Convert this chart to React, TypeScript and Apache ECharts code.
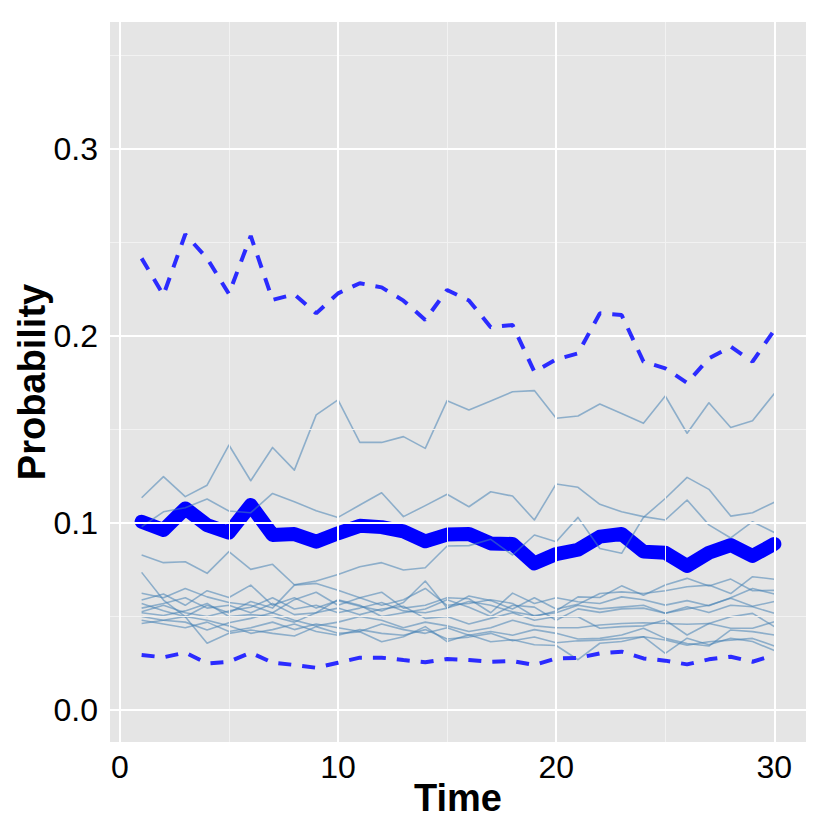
import React, { useEffect, useRef } from "react";
import * as echarts from "echarts";

const time = [1,2,3,4,5,6,7,8,9,10,11,12,13,14,15,16,17,18,19,20,21,22,23,24,25,26,27,28,29,30];

const meanProb = [0.1007,0.0963,0.1078,0.0989,0.0948,0.1096,0.0936,0.0941,0.0900,0.0945,0.0985,0.0978,0.0955,0.0902,0.0938,0.0941,0.0891,0.0888,0.0784,0.0834,0.0857,0.0927,0.0941,0.0847,0.0841,0.0770,0.0841,0.0882,0.0824,0.0888];
const upperProb = [0.2415,0.2219,0.2544,0.2415,0.2225,0.2535,0.2193,0.2223,0.2121,0.2228,0.2282,0.2260,0.2189,0.2086,0.2246,0.2190,0.2047,0.2059,0.1809,0.1875,0.1907,0.2121,0.2112,0.1863,0.1827,0.1749,0.1880,0.1943,0.1863,0.2032];
const lowerProb = [0.0294,0.0282,0.0307,0.0249,0.0258,0.0307,0.0253,0.0241,0.0226,0.0253,0.0280,0.0280,0.0267,0.0255,0.0273,0.0267,0.0258,0.0262,0.0241,0.0276,0.0278,0.0303,0.0312,0.0276,0.0264,0.0244,0.0271,0.0285,0.0258,0.0294];

const simA = [0.1135,0.1248,0.1141,0.1202,0.1417,0.1226,0.1404,0.1283,0.1578,0.1658,0.1431,0.1431,0.1462,0.1399,0.1654,0.1604,0.1652,0.1702,0.1708,0.1560,0.1572,0.1636,0.1586,0.1533,0.1679,0.1480,0.1643,0.1511,0.1547,0.1693];
const simB = [0.0980,0.1060,0.1082,0.1128,0.1064,0.1055,0.1158,0.1114,0.1066,0.1030,0.1096,0.1162,0.1034,0.1093,0.1154,0.1087,0.1167,0.1144,0.1016,0.1209,0.1191,0.1100,0.1060,0.1034,0.1016,0.1123,0.0990,0.0920,0.1007,0.0949];
const simC = [0.0829,0.0788,0.0793,0.0731,0.0847,0.0752,0.0779,0.0670,0.0690,0.0725,0.0766,0.0788,0.0749,0.0761,0.0877,0.0879,0.0913,0.0829,0.0936,0.0900,0.1030,0.0864,0.0838,0.1030,0.1131,0.1244,0.1180,0.1037,0.1055,0.1111];
const simD = [0.0736,0.0588,0.0499,0.0357,0.0410,0.0428,0.0410,0.0396,0.0446,0.0410,0.0418,0.0365,0.0392,0.0446,0.0366,0.0402,0.0365,0.0376,0.0349,0.0345,0.0269,0.0357,0.0366,0.0392,0.0303,0.0384,0.0349,0.0384,0.0366,0.0318];
const simE = [0.0624,0.0600,0.0650,0.0605,0.0575,0.0560,0.0520,0.0590,0.0630,0.0560,0.0600,0.0560,0.0590,0.0650,0.0560,0.0570,0.0590,0.0570,0.0500,0.0530,0.0605,0.0602,0.0664,0.0614,0.0668,0.0704,0.0663,0.0700,0.0638,0.0640];
const simF = [0.0588,0.0620,0.0560,0.0638,0.0602,0.0668,0.0560,0.0600,0.0545,0.0585,0.0555,0.0530,0.0575,0.0690,0.0545,0.0610,0.0585,0.0540,0.0600,0.0540,0.0565,0.0623,0.0632,0.0623,0.0638,0.0659,0.0668,0.0623,0.0713,0.0699];
const simG = [0.0570,0.0531,0.0499,0.0560,0.0520,0.0580,0.0545,0.0668,0.0677,0.0640,0.0600,0.0630,0.0545,0.0560,0.0600,0.0595,0.0520,0.0625,0.0570,0.0600,0.0579,0.0570,0.0605,0.0590,0.0561,0.0585,0.0558,0.0600,0.0650,0.0620];
const simH = [0.0545,0.0570,0.0600,0.0545,0.0560,0.0520,0.0570,0.0510,0.0520,0.0590,0.0560,0.0500,0.0520,0.0540,0.0590,0.0550,0.0500,0.0560,0.0550,0.0480,0.0541,0.0522,0.0541,0.0545,0.0517,0.0541,0.0560,0.0598,0.0555,0.0580];
const simI = [0.0526,0.0560,0.0520,0.0500,0.0530,0.0550,0.0600,0.0540,0.0560,0.0520,0.0545,0.0575,0.0530,0.0520,0.0545,0.0580,0.0560,0.0525,0.0505,0.0520,0.0560,0.0541,0.0550,0.0560,0.0517,0.0552,0.0521,0.0560,0.0552,0.0517];
const simJ = [0.0520,0.0505,0.0530,0.0570,0.0500,0.0510,0.0500,0.0470,0.0520,0.0545,0.0510,0.0540,0.0555,0.0490,0.0500,0.0460,0.0490,0.0520,0.0480,0.0500,0.0499,0.0437,0.0446,0.0450,0.0481,0.0401,0.0463,0.0499,0.0517,0.0446];
const simK = [0.0500,0.0480,0.0470,0.0428,0.0467,0.0490,0.0520,0.0480,0.0450,0.0470,0.0500,0.0480,0.0440,0.0470,0.0450,0.0420,0.0440,0.0480,0.0450,0.0440,0.0440,0.0455,0.0463,0.0467,0.0463,0.0459,0.0463,0.0437,0.0437,0.0472];
const simL = [0.0480,0.0460,0.0440,0.0470,0.0420,0.0440,0.0470,0.0430,0.0460,0.0440,0.0420,0.0460,0.0430,0.0410,0.0440,0.0400,0.0420,0.0400,0.0430,0.0410,0.0380,0.0383,0.0401,0.0437,0.0383,0.0356,0.0342,0.0428,0.0419,0.0401];
const simM = [0.0463,0.0480,0.0500,0.0480,0.0450,0.0410,0.0430,0.0460,0.0420,0.0400,0.0430,0.0410,0.0400,0.0430,0.0380,0.0390,0.0410,0.0370,0.0390,0.0360,0.0370,0.0374,0.0383,0.0392,0.0374,0.0347,0.0365,0.0374,0.0383,0.0342];

const simulations = [simA, simB, simC, simD, simE, simF, simG, simH, simI, simJ, simK, simL, simM];

const xTicks = [0, 10, 20, 30];
const xMinor = [5, 15, 25];
const yTicks = [0, 0.1, 0.2, 0.3];
const yMinor = [0.05, 0.15, 0.25, 0.35];

const xTitle = "Time";
const yTitle = "Probability";

const FONT = "'Liberation Sans', Arial, Helvetica, sans-serif";

function pairs(vals: number[]) {
  return time.map((t, i) => [t, vals[i]]);
}

export default function App() {
  const ref = useRef<HTMLDivElement>(null);
  useEffect(() => {
    if (!ref.current) return;
    const chart = echarts.init(ref.current, undefined, { renderer: "svg" });
    const major = { color: "#FFFFFF", width: 2, type: "solid" as const };
    const minor = { color: "#F2F2F2", width: 1, type: "solid" as const };
    const gridLines: any[] = [
      ...xMinor.map((v) => ({ xAxis: v, lineStyle: minor })),
      ...yMinor.map((v) => ({ yAxis: v, lineStyle: minor })),
      ...xTicks.map((v) => ({ xAxis: v, lineStyle: major })),
      ...yTicks.map((v) => ({ yAxis: v, lineStyle: major })),
    ];
    const series: any[] = [
      {
        type: "line",
        name: "grid",
        z: 1,
        silent: true,
        data: [[0, -1]],
        showSymbol: false,
        symbol: "none",
        lineStyle: { opacity: 0 },
        markLine: {
          silent: true,
          symbol: ["none", "none"],
          label: { show: false },
          animation: false,
          data: gridLines,
        },
      },
      {
        type: "line",
        name: "mean",
        z: 3,
        data: pairs(meanProb),
        symbol: "none",
        showSymbol: false,
        lineStyle: { color: "#0000FF", width: 14, cap: "round", join: "round" },
      },
      ...simulations.map((s, i) => ({
        type: "line",
        name: "sim" + i,
        z: 4,
        data: pairs(s),
        symbol: "none",
        showSymbol: false,
        lineStyle: { color: "#4682B4", opacity: 0.55, width: 1.6, join: "round" },
      })),
      {
        type: "line",
        name: "upper",
        z: 5,
        data: pairs(upperProb),
        symbol: "none",
        showSymbol: false,
        lineStyle: { color: "#2B2BFF", width: 4, type: [13, 11], cap: "butt" },
      },
      {
        type: "line",
        name: "lower",
        z: 5,
        data: pairs(lowerProb),
        symbol: "none",
        showSymbol: false,
        lineStyle: { color: "#2B2BFF", width: 4, type: [13, 11], cap: "butt" },
      },
    ];
    chart.setOption({
      animation: false,
      grid: {
        left: 110,
        top: 22,
        width: 696,
        height: 720,
        show: true,
        backgroundColor: "#E5E5E5",
        borderWidth: 0,
        containLabel: false,
        outerBoundsMode: "none",
      },
      graphic: [
        {
          type: "text",
          x: 458,
          y: 798,
          style: {
            text: xTitle,
            fontFamily: FONT,
            fontSize: 38,
            fontWeight: "bold",
            fill: "#000",
            align: "center",
            verticalAlign: "middle",
          },
        },
        {
          type: "text",
          x: 32,
          y: 382,
          rotation: Math.PI / 2,
          style: {
            text: yTitle,
            fontFamily: FONT,
            fontSize: 38,
            fontWeight: "bold",
            fill: "#000",
            align: "center",
            verticalAlign: "middle",
          },
        },
      ],
      xAxis: {
        type: "value",
        min: -0.45,
        max: 31.45,
        axisLine: { show: false },
        splitLine: { show: false },
        axisTick: { show: true, customValues: xTicks, length: 7, lineStyle: { color: "#7F7F7F", width: 1.5 } },
        axisLabel: { customValues: xTicks, fontFamily: FONT, fontSize: 32, color: "#000", margin: 9 },
      },
      yAxis: {
        type: "value",
        min: -0.0171,
        max: 0.3679,
        axisLine: { show: false },
        splitLine: { show: false },
        axisTick: { show: true, customValues: yTicks, length: 7, lineStyle: { color: "#7F7F7F", width: 1.5 } },
        axisLabel: {
          customValues: yTicks,
          fontFamily: FONT,
          fontSize: 32,
          color: "#000",
          margin: 12,
          formatter: (v: number) => v.toFixed(1),
        },
      },
      series,
    });
    return () => chart.dispose();
  }, []);
  return (
    <div
      ref={ref}
      style={{ position: "absolute", left: 0, top: 0, width: 830, height: 830, background: "#FFFFFF" }}
    />
  );
}
